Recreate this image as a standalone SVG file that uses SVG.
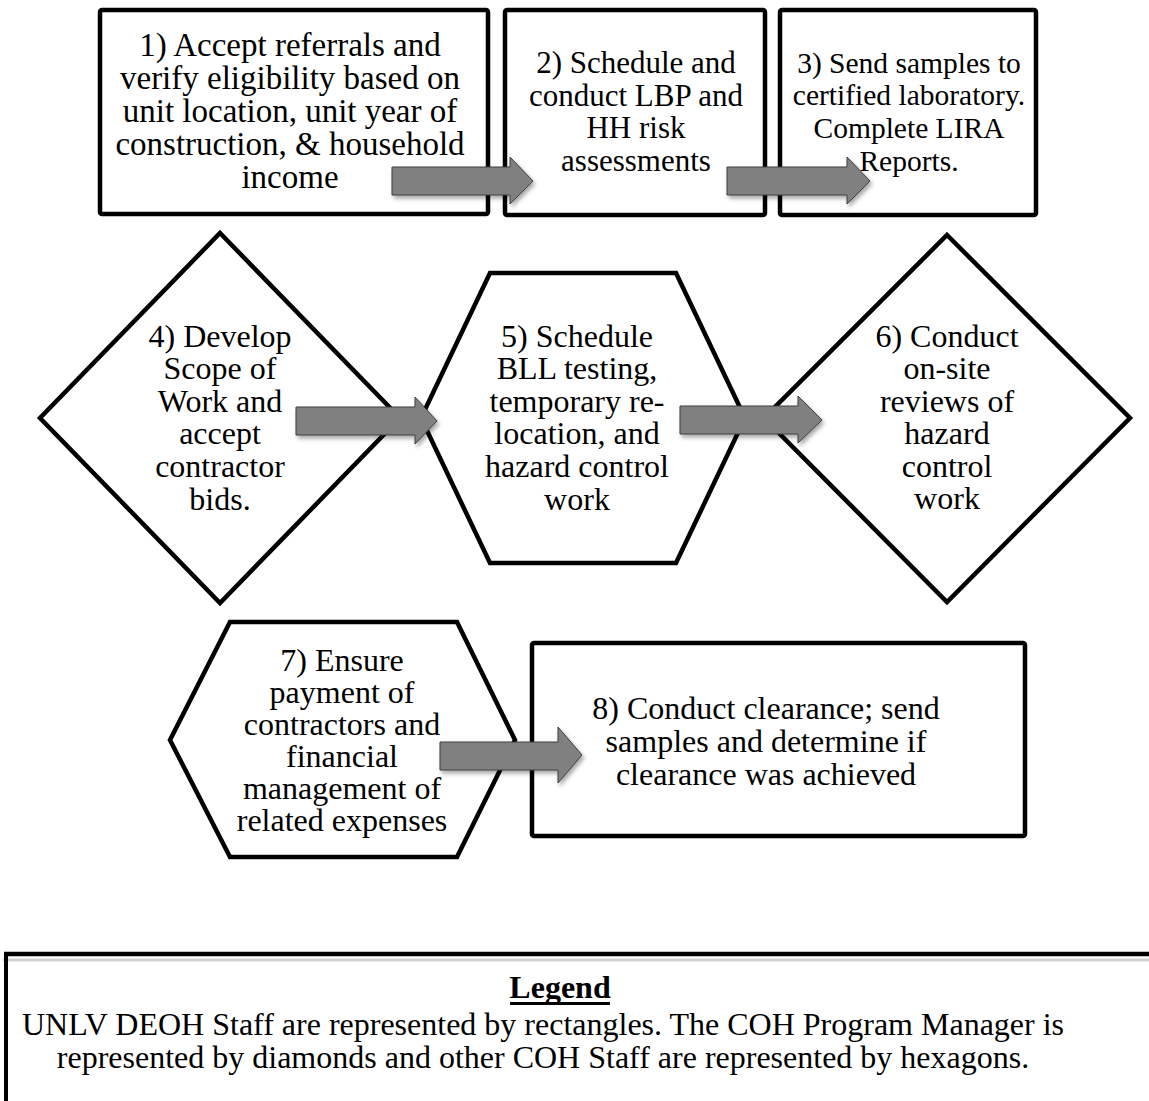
<svg xmlns="http://www.w3.org/2000/svg" width="1149" height="1101" viewBox="0 0 1149 1101">
<defs>
<style>
.shape{fill:#fff;stroke:#000;stroke-width:4.5;stroke-linejoin:miter}
.lbl{font-family:'Liberation Serif','Times New Roman',Times,serif;font-size:32px;fill:#000;text-anchor:middle}
.arr{fill:#808080;stroke:#3f3f3f;stroke-width:1;filter:url(#sh)}
.leg{font-family:'Liberation Serif','Times New Roman',Times,serif;font-size:32px;fill:#000;text-anchor:middle}
</style>
<filter id="sh" x="-10%" y="-30%" width="130%" height="180%">
<feDropShadow dx="2" dy="3" stdDeviation="2" flood-color="#000" flood-opacity="0.35"/>
</filter>
</defs>
<rect width="1149" height="1101" fill="#fff"/>

<g id="node1">
<rect class="shape" x="100" y="10" width="388" height="204" rx="2"/>
<text class="lbl" style="font-size:33px"><tspan x="290" y="56">1) Accept referrals and</tspan><tspan x="290" y="89">verify eligibility based on</tspan><tspan x="290" y="122">unit location, unit year of</tspan><tspan x="290" y="155">construction, &amp; household</tspan><tspan x="290" y="188">income</tspan></text>
</g>
<g id="node2">
<rect class="shape" x="505" y="10" width="260" height="205" rx="2"/>
<text class="lbl" style="font-size:31px"><tspan x="636" y="73">2) Schedule and</tspan><tspan x="636" y="106">conduct LBP and</tspan><tspan x="636" y="138">HH risk</tspan><tspan x="636" y="171">assessments</tspan></text>
</g>
<g id="node3">
<rect class="shape" x="780" y="10" width="256" height="205" rx="2"/>
<text class="lbl" style="font-size:29.5px"><tspan x="909" y="73">3) Send samples to</tspan><tspan x="909" y="105">certified laboratory.</tspan><tspan x="909" y="138">Complete LIRA</tspan><tspan x="909" y="171">Reports.</tspan></text>
</g>
<g id="node4">
<polygon class="shape" points="220,233 400,418 220,603 40,418"/>
<text class="lbl"><tspan x="220" y="347">4) Develop</tspan><tspan x="220" y="379">Scope of</tspan><tspan x="220" y="412">Work and</tspan><tspan x="220" y="444">accept</tspan><tspan x="220" y="477">contractor</tspan><tspan x="220" y="510">bids.</tspan></text>
</g>
<g id="node5">
<polygon class="shape" points="490,273 676,273 745,418 676,563 490,563 421,418"/>
<text class="lbl"><tspan x="577" y="347">5) Schedule</tspan><tspan x="577" y="379">BLL testing,</tspan><tspan x="577" y="412">temporary re-</tspan><tspan x="577" y="444">location, and</tspan><tspan x="577" y="477">hazard control</tspan><tspan x="577" y="510">work</tspan></text>
</g>
<g id="node6">
<polygon class="shape" points="947,235 1130,418 947,602 764,418"/>
<text class="lbl"><tspan x="947" y="347">6) Conduct</tspan><tspan x="947" y="379">on-site</tspan><tspan x="947" y="412">reviews of</tspan><tspan x="947" y="444">hazard</tspan><tspan x="947" y="477">control</tspan><tspan x="947" y="509">work</tspan></text>
</g>
<g id="node7">
<polygon class="shape" points="230,622 457,622 515,740 457,857 230,857 170,740"/>
<text class="lbl"><tspan x="342" y="671">7) Ensure</tspan><tspan x="342" y="703">payment of</tspan><tspan x="342" y="735">contractors and</tspan><tspan x="342" y="767">financial</tspan><tspan x="342" y="799">management of</tspan><tspan x="342" y="831">related expenses</tspan></text>
</g>
<g id="node8">
<rect class="shape" x="532" y="643" width="493" height="193" rx="2"/>
<text class="lbl"><tspan x="766" y="719">8) Conduct clearance; send</tspan><tspan x="766" y="752">samples and determine if</tspan><tspan x="766" y="785">clearance was achieved</tspan></text>
</g>

<g id="connectors">
<polygon class="arr" points="392,167 510,167 510,157 533,181 510,204 510,195 392,195"/>
<polygon class="arr" points="727,167 847,167 847,157 870,181 847,204 847,195 727,195"/>
<polygon class="arr" points="296,407 415,407 415,397 437,421 415,444 415,435 296,435"/>
<polygon class="arr" points="680,406 798,406 798,396 822,420 798,443 798,434 680,434"/>
<polygon class="arr" points="440,742 558,742 558,727 582,755 558,783 558,770 440,770"/>
</g>

<g id="legend">
<line x1="3" y1="960" x2="1149" y2="960" stroke="#d0d0d0" stroke-width="3"/>
<line x1="4" y1="954" x2="1149" y2="954" stroke="#000" stroke-width="4.5"/>
<line x1="6" y1="952" x2="6" y2="1101" stroke="#000" stroke-width="4"/>
<text class="leg" x="560" y="998" font-weight="bold">Legend</text>
<line x1="510" y1="1003.5" x2="610" y2="1003.5" stroke="#000" stroke-width="3"/>
<text class="leg" x="543" y="1035">UNLV DEOH Staff are represented by rectangles. The COH Program Manager is</text>
<text class="leg" x="543" y="1068">represented by diamonds and other COH Staff are represented by hexagons.</text>
</g>
</svg>
